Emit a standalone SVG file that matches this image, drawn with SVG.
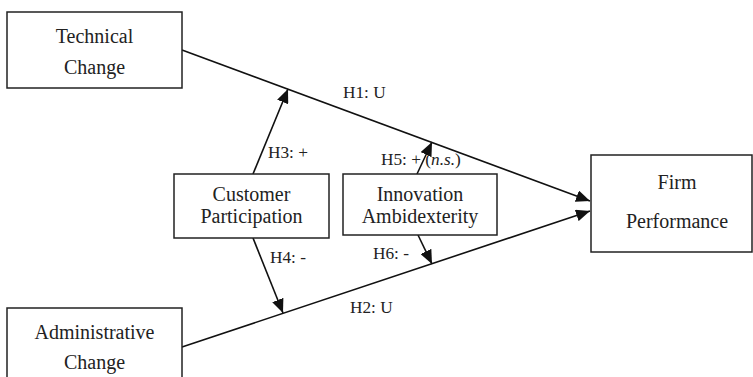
<svg xmlns="http://www.w3.org/2000/svg" width="753" height="377" viewBox="0 0 753 377">
<style>
.box{fill:#fff;stroke:#222;stroke-width:1.5}
.nt{font-family:"Liberation Serif","Times New Roman",serif;font-size:20px;fill:#222;text-anchor:middle}
.lb{font-family:"Liberation Serif","Times New Roman",serif;font-size:17.3px;fill:#222}
.ln{stroke:#111;stroke-width:1.6;fill:none}
</style>
<defs>
<marker id="ah" markerUnits="userSpaceOnUse" markerWidth="14" markerHeight="12" viewBox="0 0 14 12" refX="14" refY="6" orient="auto">
<path d="M0,0 L14,6 L0,12 z" fill="#111"/>
</marker>
</defs>
<rect width="753" height="377" fill="#fff"/>
<g id="connectors">
<line class="ln" x1="182" y1="50" x2="590" y2="201" marker-end="url(#ah)"/>
<line class="ln" x1="182" y1="347" x2="590" y2="211" marker-end="url(#ah)"/>
<line class="ln" x1="253" y1="174" x2="288" y2="89" marker-end="url(#ah)"/>
<line class="ln" x1="253" y1="238" x2="283" y2="313" marker-end="url(#ah)"/>
<line class="ln" x1="417" y1="174" x2="432" y2="142" marker-end="url(#ah)"/>
<line class="ln" x1="418" y1="235" x2="432" y2="264" marker-end="url(#ah)"/>
<text class="lb" x="343" y="98">H1: U</text>
<text class="lb" x="350" y="313">H2: U</text>
<text class="lb" x="268" y="158">H3: +</text>
<text class="lb" x="270" y="263">H4: -</text>
<text class="lb" x="381" y="165">H5: + (<tspan font-style="italic">n.s.</tspan>)</text>
<text class="lb" x="373" y="259">H6: -</text>
</g>
<g id="technical-change">
<rect class="box" x="7" y="12" width="175" height="76"/>
<text class="nt" x="94.5" y="43">Technical</text>
<text class="nt" x="94.5" y="74">Change</text>
</g>
<g id="administrative-change">
<rect class="box" x="7" y="308" width="175" height="80"/>
<text class="nt" x="94.5" y="339">Administrative</text>
<text class="nt" x="94.5" y="369">Change</text>
</g>
<g id="customer-participation">
<rect class="box" x="174" y="174" width="155" height="64"/>
<text class="nt" x="251.5" y="201">Customer</text>
<text class="nt" x="251.5" y="223">Participation</text>
</g>
<g id="innovation-ambidexterity">
<rect class="box" x="343" y="174" width="154" height="61"/>
<text class="nt" x="420" y="201">Innovation</text>
<text class="nt" x="420" y="223">Ambidexterity</text>
</g>
<g id="firm-performance">
<rect class="box" x="591" y="155" width="161" height="97"/>
<text class="nt" x="677" y="189">Firm</text>
<text class="nt" x="677" y="228">Performance</text>
</g>
</svg>
